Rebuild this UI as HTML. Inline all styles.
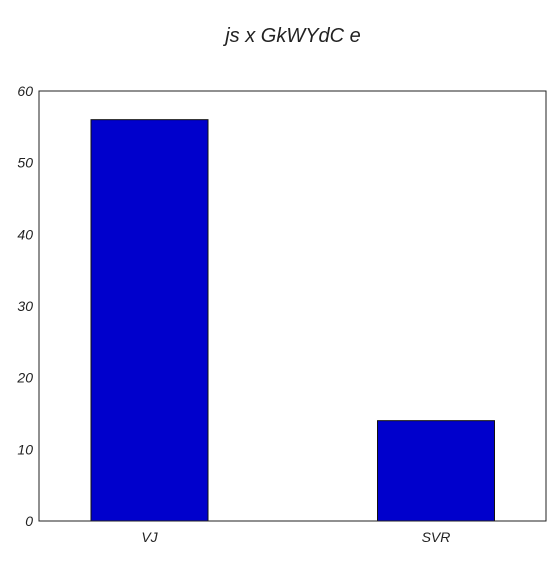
<!DOCTYPE html>
<html><head><meta charset="utf-8"><style>
body{margin:0;background:#fff;}
text{font-family:"Liberation Sans",sans-serif;font-style:italic;fill:#222;}
</style></head><body>
<svg id="chart" width="560" height="560">
<text x="293" y="42" font-size="20" text-anchor="middle">js x GkWYdC e</text>
<g id="bars"></g>
<g id="axes"></g>
<rect x="39" y="91" width="507" height="430" fill="none" stroke="#222" stroke-width="1"/>
</svg>
<script>
const categories=["VJ","SVR"];
const values=[56,14];
const yTicks=[0,10,20,30,40,50,60];
const L=39,R=546,T=91,B=521,yMax=60;
const y=v=>B-(v/yMax)*(B-T);
const step=286.5, first=149.5;
const x=i=>first+i*step;
const bw=117;
const ns="http://www.w3.org/2000/svg";
const bars=document.getElementById('bars'),axes=document.getElementById('axes');
categories.forEach((c,i)=>{
 const r=document.createElementNS(ns,'rect');
 r.setAttribute('x',x(i)-bw/2);r.setAttribute('y',y(values[i]));
 r.setAttribute('width',bw);r.setAttribute('height',B-y(values[i]));
 r.setAttribute('fill','#0000cc');r.setAttribute('stroke','#111');r.setAttribute('stroke-width','1');
 
 
 bars.appendChild(r);
 const t=document.createElementNS(ns,'text');
 t.setAttribute('x',x(i));t.setAttribute('y',B+21);t.setAttribute('font-size','14');t.setAttribute('text-anchor','middle');
 t.textContent=c;
 
 
 axes.appendChild(t);
});
yTicks.forEach(v=>{
 const t=document.createElementNS(ns,'text');
 t.setAttribute('x',L-6);t.setAttribute('y',y(v)+5);t.setAttribute('font-size','14');t.setAttribute('text-anchor','end');
 t.textContent=v;
 
 
 axes.appendChild(t);
});
</script>
</body></html>
